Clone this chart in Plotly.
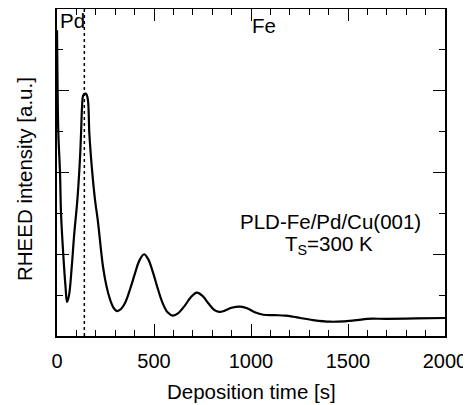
import plotly.graph_objects as go

# Deposition time [s] and RHEED intensity [a.u.]
time_s = [0, 2.6, 6.7, 15.5, 20.6, 32.5, 44, 51.5, 62, 76, 88, 105, 118, 124, 129, 134,
          140, 147, 153, 160, 166.7, 180, 196, 210, 237, 255, 273, 290, 309, 330, 350,
          377, 400, 425, 449, 470, 495, 520, 545, 570, 597, 625, 660, 690, 721, 750,
          780, 810, 836, 865, 900, 945, 980, 1020, 1063, 1120, 1177, 1220, 1254, 1320,
          1409, 1480, 1548, 1600, 1700, 1850, 2000]
intensity = [7.48, 6.26, 4.99, 3.99, 3.01, 1.98, 1.2, 0.83, 1.0, 1.69, 2.45, 3.33, 4.3, 4.96,
             5.6, 5.87, 5.92, 5.93, 5.9, 5.75, 4.96, 4.1, 3.33, 2.84, 1.7, 1.22, 0.9, 0.7,
             0.61, 0.66, 0.8, 1.15, 1.5, 1.85, 2.0, 1.88, 1.55, 1.15, 0.8, 0.58, 0.5, 0.56,
             0.75, 0.95, 1.06, 0.98, 0.8, 0.64, 0.59, 0.62, 0.69, 0.72, 0.68, 0.58, 0.52,
             0.51, 0.5, 0.47, 0.44, 0.39, 0.35, 0.36, 0.39, 0.42, 0.42, 0.43, 0.44]
boundary_t = [141, 141]
boundary_y = [0, 8]
x_range = [0, 2000]
y_range = [0, 8]

FONT = "Liberation Sans, Arial, sans-serif"
FS = 20.5

fig = go.Figure()
fig.add_trace(go.Scatter(x=boundary_t, y=boundary_y, mode="lines",
                         line=dict(color="black", width=1.5, dash="dot"),
                         hoverinfo="skip", showlegend=False))
fig.add_trace(go.Scatter(x=time_s, y=intensity, mode="lines",
                         line=dict(color="black", width=2.2, shape="spline", smoothing=1.0),
                         showlegend=False))
# invisible trace on mirrored axes (top / right) to carry their ticks
fig.add_trace(go.Scatter(x=x_range, y=y_range, mode="lines", xaxis="x2", yaxis="y2",
                         line=dict(width=0), hoverinfo="skip", showlegend=False))

common = dict(showline=True, linecolor="black", linewidth=1.5, ticks="inside",
              tickcolor="black", tickwidth=1.2, ticklen=12, showgrid=False,
              zeroline=False, automargin=False)
xminor = dict(dtick=100, ticks="inside", ticklen=6, tickcolor="black", tickwidth=1.2,
              showgrid=False)
yminor = dict(dtick=1, ticks="inside", ticklen=6, tickcolor="black", tickwidth=1.2,
              showgrid=False)

fig.update_layout(
    xaxis=dict(range=x_range, dtick=500, tick0=0, minor=xminor, ticklabelstandoff=6,
               tickfont=dict(size=20, color="black"), **common),
    yaxis=dict(range=y_range, dtick=2, tick0=0, minor=yminor, showticklabels=False,
               **common),
    xaxis2=dict(range=x_range, dtick=500, tick0=0, minor=xminor, overlaying="x",
                side="top", anchor="y2", showticklabels=False, **common),
    yaxis2=dict(range=y_range, dtick=2, tick0=0, minor=yminor, overlaying="y",
                side="right", anchor="x2", showticklabels=False, **common),
)

fig.add_annotation(x=0.5, y=-0.171, xref="paper", yref="paper",
                   text="Deposition time [s]", showarrow=False, xanchor="center",
                   yanchor="middle", font=dict(size=FS, color="black"))
fig.add_annotation(x=-0.085, y=0.48, xref="paper", yref="paper",
                   text="RHEED intensity [a.u.]", showarrow=False, textangle=-90,
                   xanchor="center", yanchor="middle", font=dict(size=FS, color="black"))

fig.add_annotation(x=0, y=7.73, xref="x", yref="y", text="Pd", showarrow=False,
                   xanchor="left", yanchor="middle", xshift=1, font=dict(size=FS, color="black"))
fig.add_annotation(x=1067, y=7.6, xref="x", yref="y", text="Fe", showarrow=False,
                   xanchor="center", yanchor="middle", font=dict(size=FS, color="black"))
fig.add_annotation(x=1412, y=2.81, xref="x", yref="y", text="PLD-Fe/Pd/Cu(001)",
                   showarrow=False, xanchor="center", yanchor="middle",
                   font=dict(size=FS, color="black"))
fig.add_annotation(x=1400, y=2.22, xref="x", yref="y",
                   text="T<sub>S</sub>=300 K", showarrow=False, xanchor="center",
                   yanchor="middle", font=dict(size=FS, color="black"))

# the page body adds an 8 px offset, so the figure is sized to fit the 471x405 window
fig.update_layout(width=463, height=397, margin=dict(l=49, r=26, t=1, b=69),
                  plot_bgcolor="white", paper_bgcolor="white",
                  font=dict(family=FONT, color="black"))

fig.write_html("out.html")
